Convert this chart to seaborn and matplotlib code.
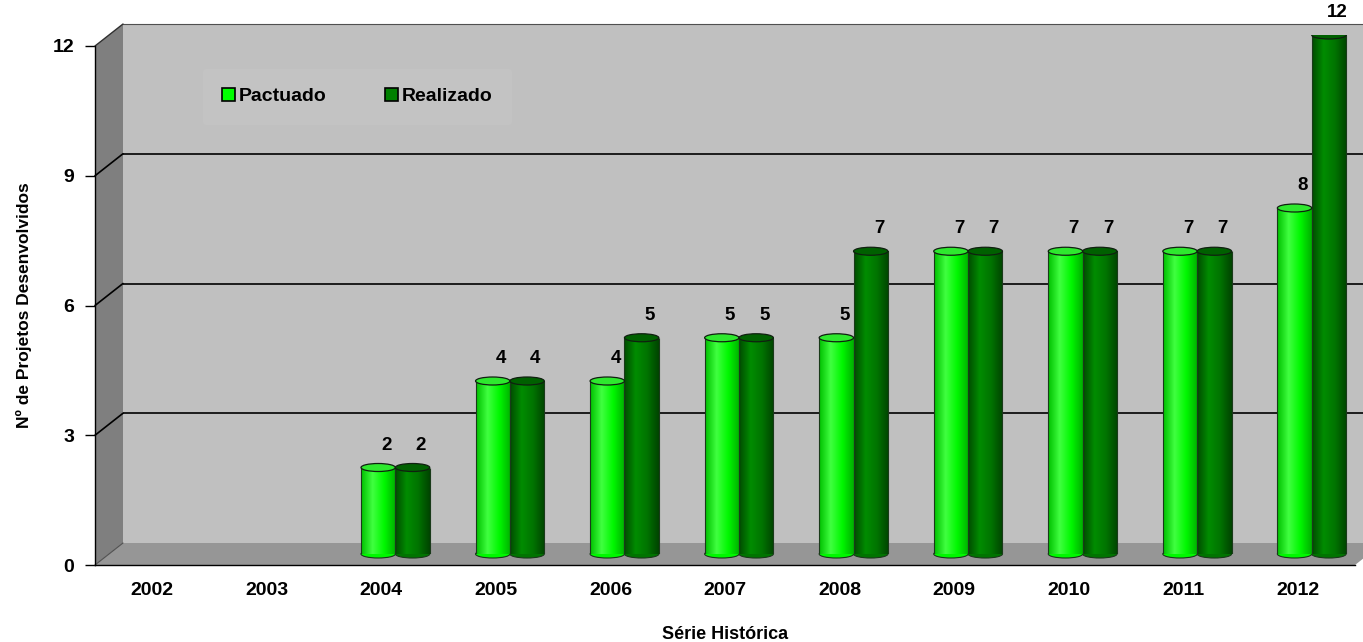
import numpy as np
import pandas as pd
import matplotlib.pyplot as plt
import seaborn as sns
from matplotlib.patches import Ellipse, Polygon, Patch
from matplotlib.colors import LinearSegmentedColormap

YEARS = ["2002", "2003", "2004", "2005", "2006", "2007", "2008", "2009", "2010", "2011", "2012"]
PACTUADO = [np.nan, np.nan, 2, 4, 4, 5, 5, 7, 7, 7, 8]
REALIZADO = [np.nan, np.nan, 2, 4, 5, 5, 7, 7, 7, 7, 12]
SERIES = ["Pactuado", "Realizado"]
YTICKS = [0, 3, 6, 9, 12]

COLORS = {"Pactuado": "#00ff00", "Realizado": "#008000"}
SHADE = {"Pactuado": ["#00c000", "#40ff40", "#00f800", "#00b000"],
         "Realizado": ["#004c00", "#008c00", "#007400", "#004400"]}
TOPS = {"Pactuado": "#2ee82e", "Realizado": "#006000"}

df = pd.DataFrame({"year": YEARS * 2,
                   "value": PACTUADO + REALIZADO,
                   "serie": ["Pactuado"] * len(YEARS) + ["Realizado"] * len(YEARS)})

sns.set_style("white")
plt.rcParams["font.family"] = ["Liberation Sans", "DejaVu Sans"]
plt.rcParams.update({"font.weight": "bold", "text.color": "black", "axes.labelcolor": "black",
                     "xtick.color": "black", "ytick.color": "black"})

W, H = 1363, 642
fig = plt.figure(figsize=(W / 100, H / 100), dpi=100)

# pixel geometry of the front plane
x0, x1, y0, y12 = 95, 1355, 565, 46
dxp, dyp = 28, 22          # depth offset of the back wall
ymax = 12
xl = (-0.5, len(YEARS) - 0.5)

def rect(ox, oy):
    return [(x0 + ox) / W, (H - y0 + oy) / H, (x1 - x0) / W, (y0 - y12) / H]

# back wall
ax_back = fig.add_axes(rect(dxp, dyp))
ax_back.set_facecolor("#c0c0c0")
ax_back.set_xlim(*xl); ax_back.set_ylim(0, ymax)
ax_back.set_xticks([]); ax_back.set_yticks([3, 6, 9])
ax_back.tick_params(left=False, labelleft=False)
ax_back.grid(axis="y", color="black", lw=1.2)
for s in ["left", "right", "bottom"]:
    ax_back.spines[s].set_visible(False)
ax_back.spines["top"].set_color("#505050")

# front axes: side wall, floor, ticks
ax = fig.add_axes(rect(0, 0))
ax.set_facecolor("none")
ax.set_xlim(*xl); ax.set_ylim(0, ymax)
dx = dxp * (xl[1] - xl[0]) / (x1 - x0)
dy = dyp * ymax / (y0 - y12)
ax.add_patch(Polygon([(xl[0], 0), (xl[0] + dx, dy), (xl[0] + dx, ymax + dy), (xl[0], ymax)],
                     closed=True, fc="#7f7f7f", ec="none", clip_on=False, zorder=0))
ax.add_patch(Polygon([(xl[0], 0), (xl[0] + dx, dy), (xl[1] + dx, dy), (xl[1], 0)],
                     closed=True, fc="#969696", ec="none", clip_on=False, zorder=0))
ax.plot([xl[0], xl[0] + dx], [ymax, ymax + dy], color="#303030", lw=1, clip_on=False)
for v in YTICKS[1:-1]:
    ax.plot([xl[0], xl[0] + dx], [v, v + dy], color="black", lw=1.2, clip_on=False)
ax.plot([xl[0], xl[0] + dx], [0, dy], color="#505050", lw=0.8, clip_on=False)

ax.set_yticks(YTICKS)
ax.set_yticklabels([str(t) for t in YTICKS], fontsize=14, fontweight="bold")
ax.set_xticks(range(len(YEARS)))
ax.set_xticklabels(YEARS, fontsize=14, fontweight="bold")
ax.set_xticks(np.arange(len(YEARS) + 1) - 0.5, minor=True)
ax.tick_params(axis="x", which="major", length=0, pad=12)
ax.tick_params(axis="x", which="minor", length=7, direction="out", color="black", width=1)
ax.tick_params(axis="y", length=7, direction="out", color="black", width=1, left=True, pad=8)
for s in ["top", "right"]:
    ax.spines[s].set_visible(False)
for s in ["left", "bottom"]:
    ax.spines[s].set_color("black"); ax.spines[s].set_linewidth(1)
ax.set_xlabel("Série Histórica", fontsize=13, fontweight="bold", labelpad=20)
ax.set_ylabel("Nº de Projetos Desenvolvidos", fontsize=12.5, fontweight="bold", labelpad=15)

# bars at mid depth
ax_b = fig.add_axes(rect(dxp / 2, dyp / 2))
ax_b.set_facecolor("none")
sns.barplot(data=df, x="year", y="value", hue="serie", order=YEARS, hue_order=SERIES,
            palette=COLORS, width=0.6, gap=0, legend=False, ax=ax_b, linewidth=0)
ax_b.set_xlim(*xl); ax_b.set_ylim(0, ymax)
ax_b.axis("off")

eh = 8 * ymax / (y0 - y12)
for cont, name in zip(ax_b.containers, SERIES):
    cmap = LinearSegmentedColormap.from_list(name, SHADE[name])
    for p in cont.patches:
        h = p.get_height()
        if not np.isfinite(h) or h <= 0:
            continue
        bx, bw = p.get_x(), p.get_width()
        p.set_zorder(2)
        ax_b.add_patch(Ellipse((bx + bw / 2, 0), bw, eh, fc=SHADE[name][2], ec="#1a3a1a",
                               lw=0.8, zorder=1.5, clip_on=False))
        im = ax_b.imshow(np.linspace(0, 1, 64)[None, :], extent=(bx, bx + bw, 0, h),
                         cmap=cmap, aspect="auto", zorder=2.1)
        im.set_clip_path(p)
        ax_b.vlines([bx, bx + bw], 0, h, color="#1a3a1a", lw=0.8, zorder=2.2)
        ax_b.add_patch(Ellipse((bx + bw / 2, h), bw, eh, fc=TOPS[name], ec="#102010",
                               lw=0.9, zorder=2.3))
    anns = ax_b.bar_label(cont, labels=["" if not np.isfinite(v) else f"{v:.0f}" for v in cont.datavalues],
                          padding=9, fontsize=13.5, fontweight="bold", color="black")
    for a in anns:
        a.xyann = (6, 10)
ax_b.set_xlim(*xl); ax_b.set_ylim(0, ymax)

handles = [Patch(fc=COLORS[s], ec="black", lw=1.2, label=s) for s in SERIES]
leg = ax.legend(handles=handles, loc="upper left", bbox_to_anchor=(0.078, 0.975), ncol=2,
                frameon=True, prop={"weight": "bold", "size": 14}, handlelength=0.65,
                handleheight=0.65, handletextpad=0.2, columnspacing=3.0,
                borderpad=1.0)
leg.get_frame().set_facecolor("#c4c4c4")
leg.get_frame().set_edgecolor("none")
leg.set_zorder(5)

fig.savefig("out.png", dpi=100)
